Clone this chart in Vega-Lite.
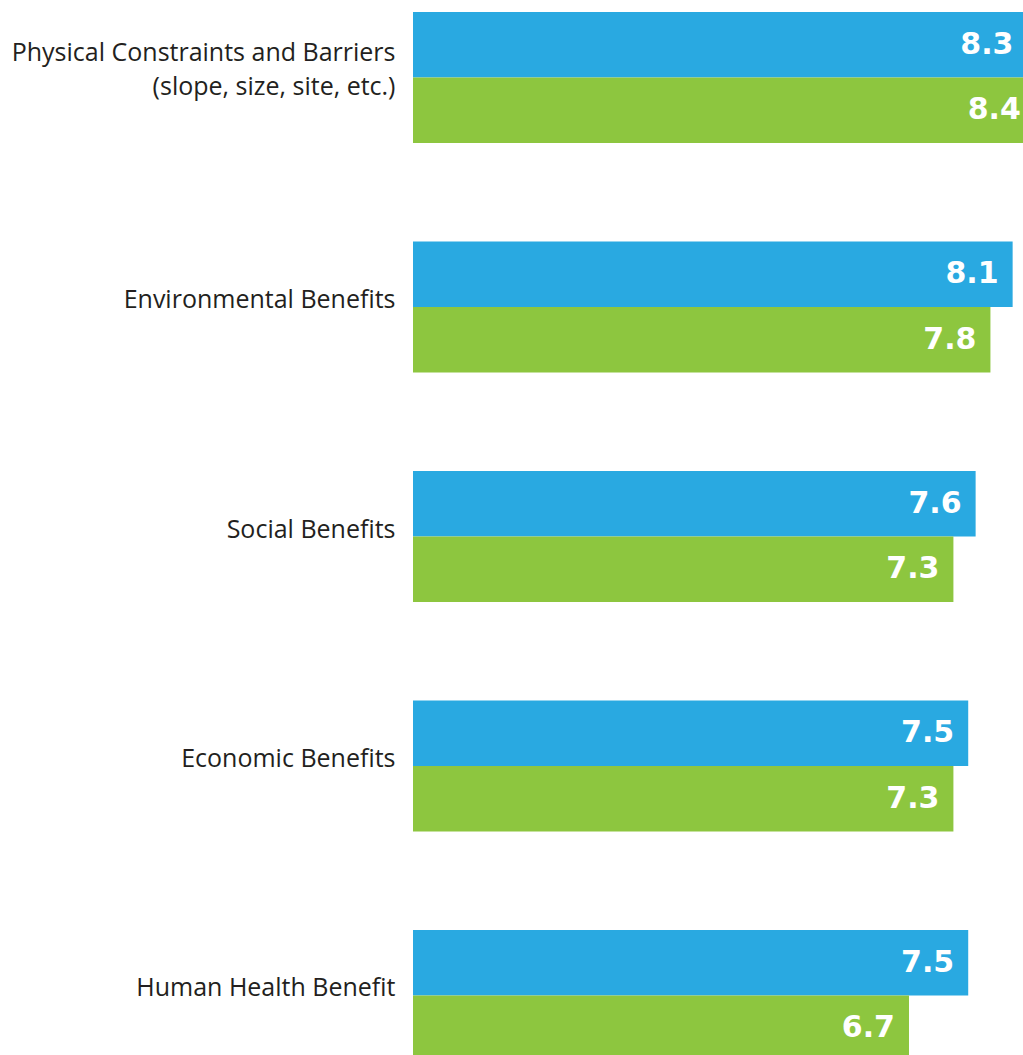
{
  "$schema": "https://vega.github.io/schema/vega-lite/v6.json",
  "autosize": "none",
  "padding": {"left": 413, "top": 12, "right": 0, "bottom": 0},
  "width": 610,
  "height": 1043,
  "background": "white",
  "config": {"view": {"stroke": null}},
  "data": {
    "values": [
      {"category": "Physical Constraints and Barriers", "series": "A", "value": 8.3},
      {"category": "Physical Constraints and Barriers", "series": "B", "value": 8.4},
      {"category": "Environmental Benefits", "series": "A", "value": 8.1},
      {"category": "Environmental Benefits", "series": "B", "value": 7.8},
      {"category": "Social Benefits", "series": "A", "value": 7.6},
      {"category": "Social Benefits", "series": "B", "value": 7.3},
      {"category": "Economic Benefits", "series": "A", "value": 7.5},
      {"category": "Economic Benefits", "series": "B", "value": 7.3},
      {"category": "Human Health Benefit", "series": "A", "value": 7.5},
      {"category": "Human Health Benefit", "series": "B", "value": 6.7}
    ]
  },
  "encoding": {
    "y": {
      "field": "category",
      "type": "nominal",
      "sort": ["Physical Constraints and Barriers", "Environmental Benefits", "Social Benefits", "Economic Benefits", "Human Health Benefit"],
      "scale": {"range": [0, 1049], "paddingInner": 0.429, "paddingOuter": 0},
      "axis": {
        "title": null,
        "domain": false,
        "ticks": false,
        "labelPadding": 18,
        "labelFont": "Open Sans",
        "labelFontSize": 25,
        "labelColor": "#231F20",
        "labelLineHeight": 34,
        "labelOffset": {"condition": {"test": "datum.value == 'Physical Constraints and Barriers'", "value": -25}, "value": -7},
        "labelLimit": 420,
        "labelExpr": "datum.value == 'Physical Constraints and Barriers' ? ['Physical Constraints and Barriers', '(slope, size, site, etc.)'] : datum.value"
      }
    },
    "yOffset": {"field": "series", "type": "nominal", "sort": ["A", "B"], "scale": {"paddingInner": 0, "paddingOuter": 0}},
    "x": {"field": "value", "type": "quantitative", "scale": {"domain": [0, 8.24], "nice": false, "zero": true}, "axis": null}
  },
  "layer": [
    {
      "mark": {"type": "bar", "clip": true},
      "encoding": {
        "color": {"field": "series", "type": "nominal", "scale": {"domain": ["A", "B"], "range": ["#29A9E1", "#8DC63F"]}, "legend": null}
      }
    },
    {
      "mark": {"type": "text", "align": "right", "baseline": "middle", "dx": -14, "font": "DejaVu Sans", "fontWeight": "bold", "fontSize": 30, "color": "white"},
      "encoding": {"text": {"field": "value", "type": "quantitative", "format": ".1f"}}
    }
  ]
}
